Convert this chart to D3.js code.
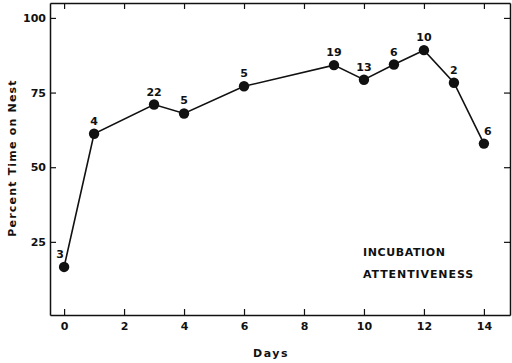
<!DOCTYPE html>
<html>
<head>
<meta charset="utf-8">
<script src="https://cdn.jsdelivr.net/npm/d3@7"></script>
<style>
  body { margin: 0; background: #fff; }
  svg { display: block; }
  text { font-family: "DejaVu Sans", sans-serif; fill: #111; }
  .tick text { font-size: 11px; font-weight: bold; }
  .axis path { stroke: #111; stroke-width: 1.5; }
  .axis line { stroke: #111; stroke-width: 1.2; }
</style>
</head>
<body>
<svg width="512" height="363"></svg>
<script>
// data
const days = [0, 1, 3, 4, 6, 9, 10, 11, 12, 13, 14];
const percent = [16.6, 61.2, 71.0, 68.0, 77.1, 84.2, 79.3, 84.4, 89.2, 78.3, 57.9];
const counts = ['3', '4', '22', '5', '5', '19', '13', '6', '10', '2', '6'];
const xTicks = [0, 2, 4, 6, 8, 10, 12, 14];
const yTicks = [25, 50, 75, 100];

const svg = d3.select('svg');
const frame = { left: 50, right: 510, top: 3, bottom: 315 };

const x = d3.scaleLinear().domain([-0.47, 14.87]).range([frame.left, frame.right]);
const y = d3.scaleLinear().domain([0.5, 105]).range([frame.bottom, frame.top]);

// frame with inward ticks on all four sides
svg.append('g').attr('class', 'axis')
    .attr('transform', 'translate(0,' + frame.bottom + ')')
    .call(d3.axisBottom(x).tickValues(xTicks).tickSizeInner(-6).tickSizeOuter(0).tickPadding(7));
svg.append('g').attr('class', 'axis')
    .attr('transform', 'translate(0,' + frame.top + ')')
    .call(d3.axisTop(x).tickValues(xTicks).tickSizeInner(-6).tickSizeOuter(0).tickFormat(''));
svg.append('g').attr('class', 'axis')
    .attr('transform', 'translate(' + frame.left + ',0)')
    .call(d3.axisLeft(y).tickValues(yTicks).tickSizeInner(-6).tickSizeOuter(0).tickPadding(4));
svg.append('g').attr('class', 'axis')
    .attr('transform', 'translate(' + frame.right + ',0)')
    .call(d3.axisRight(y).tickValues(yTicks).tickSizeInner(-6).tickSizeOuter(0).tickFormat(''));

svg.selectAll('.axis .domain').attr('stroke', '#111');

const pts = days.map((d, i) => ({day: d, val: percent[i], n: counts[i]}));

svg.append('path')
    .datum(pts)
    .attr('fill', 'none')
    .attr('stroke', '#111')
    .attr('stroke-width', 1.6)
    .attr('d', d3.line().x(d => x(d.day)).y(d => y(d.val)));

svg.selectAll('.dot')
    .data(pts)
    .enter()
    .append('circle')
    .attr('class', 'dot')
    .attr('cx', d => x(d.day))
    .attr('cy', d => y(d.val))
    .attr('r', 5.2)
    .attr('fill', '#111');

svg.selectAll('.count')
    .data(pts)
    .enter()
    .append('text')
    .attr('class', 'count')
    .attr('x', (d, i) => x(d.day) + (i === 0 ? -4 : i === pts.length - 1 ? 4 : 0))
    .attr('y', d => y(d.val) - 9)
    .attr('text-anchor', 'middle')
    .style('font-size', '11px')
    .style('font-weight', 'bold')
    .text(d => d.n);

svg.append('text')
    .attr('transform', 'translate(16,158) rotate(-90)')
    .attr('text-anchor', 'middle')
    .style('font-size', '11px')
    .style('font-weight', 'bold')
    .style('letter-spacing', '1.2px')
    .text('Percent Time on Nest');

svg.append('text')
    .attr('x', 271).attr('y', 357)
    .attr('text-anchor', 'middle')
    .style('font-size', '11px')
    .style('font-weight', 'bold')
    .style('letter-spacing', '1.5px')
    .text('Days');

svg.append('text')
    .attr('x', 363).attr('y', 256)
    .style('font-size', '11px')
    .style('font-weight', 'bold')
    .style('letter-spacing', '0.6px')
    .text('INCUBATION');
svg.append('text')
    .attr('x', 363).attr('y', 278)
    .style('font-size', '11px')
    .style('font-weight', 'bold')
    .style('letter-spacing', '0.9px')
    .text('ATTENTIVENESS');
</script>
</body>
</html>
